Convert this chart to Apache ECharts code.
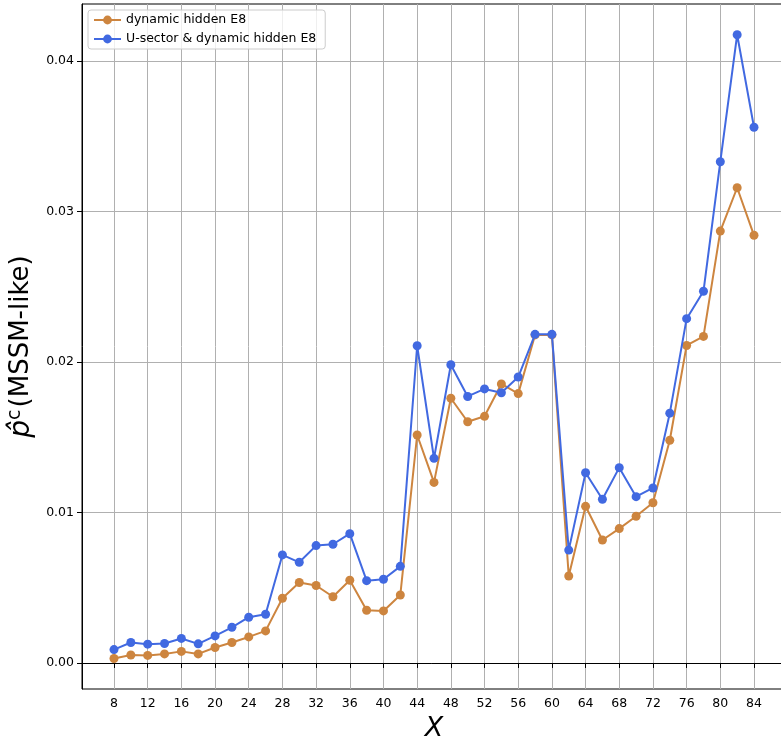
<!DOCTYPE html>
<html>
<head>
<meta charset="utf-8">
<script src="https://cdn.jsdelivr.net/npm/echarts@6/dist/echarts.min.js"></script>
<style>
html,body{margin:0;padding:0;background:#fff;}
#chart{width:781px;height:737px;}
</style>
</head>
<body>
<div id="chart"></div>
<script>
const xValues = [8,10,12,14,16,18,20,22,24,26,28,30,32,34,36,38,40,42,44,46,48,50,52,54,56,58,60,62,64,66,68,70,72,74,76,78,80,82,84];
const dynamicHidden = [0.0003,0.00053,0.0005,0.0006,0.00077,0.0006,0.00103,0.00136,0.00173,0.00213,0.0043,0.00535,0.00515,0.0044,0.0055,0.0035,0.00346,0.00452,0.01515,0.0120,0.01759,0.01603,0.01639,0.01854,0.0179,0.0218,0.0218,0.00578,0.01041,0.00817,0.00893,0.00975,0.01065,0.0148,0.0211,0.0217,0.0287,0.03158,0.02842];
const uSectorDynamic = [0.00089,0.00136,0.00125,0.00129,0.00163,0.00127,0.0018,0.00237,0.00304,0.00324,0.00718,0.00669,0.0078,0.00789,0.00859,0.00547,0.00556,0.00642,0.02108,0.0136,0.01982,0.01771,0.01821,0.01796,0.019,0.02184,0.02184,0.0075,0.01264,0.01088,0.01298,0.01105,0.01163,0.0166,0.02288,0.0247,0.03331,0.04175,0.0356];
const xTicks = [8,12,16,20,24,28,32,36,40,44,48,52,56,60,64,68,72,76,80,84];
const yTicks = [0,0.01,0.02,0.03,0.04];
const seriesNames = ['dynamic hidden E8','U-sector & dynamic hidden E8'];

const chart = echarts.init(document.getElementById('chart'), null, {renderer:'canvas'});
const font = 'DejaVu Sans';
const pair = arr => xValues.map((x,i)=>[x,arr[i]]);
const gridStyle = {color:'#b0b0b0', width:1, type:'solid'};

chart.setOption({
  animation:false,
  backgroundColor:'#fff',
  textStyle:{fontFamily:font},
  grid:{left:82, top:4, right:-5, bottom:48, show:true, borderColor:'#000', borderWidth:1,
    containLabel:false, outerBoundsMode:'none'},
  legend:{
    orient:'vertical', left:88, top:10,
    data:seriesNames,
    itemWidth:27, itemHeight:11, itemGap:5,
    padding:[3,9,3,5],
    backgroundColor:'rgba(255,255,255,0.8)',
    borderColor:'#cccccc', borderWidth:1, borderRadius:3,
    textStyle:{fontFamily:font, fontSize:12.5, color:'#000', lineHeight:14}
  },
  xAxis:{
    type:'value', min:4.2, max:87.8,
    name:'X', nameLocation:'middle', nameGap:26,
    nameTextStyle:{fontFamily:font, fontSize:27, fontStyle:'italic', color:'#000'},
    axisLine:{show:true, lineStyle:{color:'#000', width:1}},
    axisTick:{show:true, length:5, customValues:xTicks, lineStyle:{color:'#000'}},
    axisLabel:{customValues:xTicks, margin:8, fontFamily:font, fontSize:12.5, color:'#000'},
    splitLine:{show:false}
  },
  yAxis:{
    type:'value', min:-0.00173, max:0.04379,
    name:'{p|p\u0302}{sup|c}{n|(MSSM-like)}', nameLocation:'middle', nameGap:40, nameRotate:90,
    nameTextStyle:{fontFamily:font, fontSize:26, color:'#000',
      rich:{
        p:{fontFamily:font, fontSize:28, fontStyle:'italic', color:'#000'},
        sup:{fontFamily:font, fontSize:19, color:'#000', verticalAlign:'top', padding:[0,2,12,0]},
        n:{fontFamily:font, fontSize:26, color:'#000'}
      }},
    axisLine:{show:true, lineStyle:{color:'#000', width:1}},
    axisTick:{show:true, length:5, customValues:yTicks, lineStyle:{color:'#000'}},
    axisLabel:{customValues:yTicks, margin:8, fontFamily:font, fontSize:12.5, color:'#000', formatter:v=>v.toFixed(2)},
    splitLine:{show:false}
  },
  series:[
    {name:'gridlines', type:'line', data:[], z:0, silent:true,
      markLine:{silent:true, z:0, symbol:['none','none'], label:{show:false}, animation:false,
        lineStyle:gridStyle, emphasis:{disabled:true},
        data:xTicks.map(x=>({xAxis:x})).concat(yTicks.map(y=>({yAxis:y})))}},
    {name:seriesNames[0], type:'line', data:pair(dynamicHidden), symbol:'circle', symbolSize:9, z:3,
      itemStyle:{color:'#CD853F'}, lineStyle:{color:'#CD853F', width:2}},
    {name:seriesNames[1], type:'line', data:pair(uSectorDynamic), symbol:'circle', symbolSize:9, z:4,
      itemStyle:{color:'#4169E1'}, lineStyle:{color:'#4169E1', width:2}}
  ]
});
</script>
</body>
</html>
